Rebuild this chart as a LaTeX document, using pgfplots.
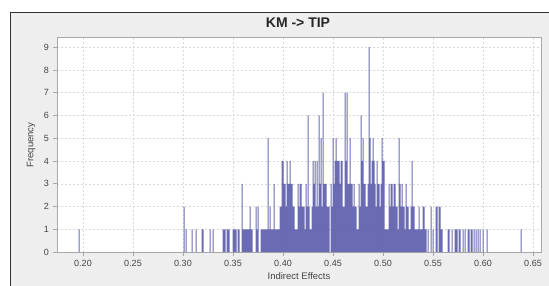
\documentclass[border=0pt]{standalone}
\usepackage{fontspec}
\setmainfont{Liberation Sans}
\usepackage{pgfplots}
\pgfplotsset{compat=1.18}
\definecolor{panelbg}{HTML}{EEEEEE}
\definecolor{barcol}{RGB}{92,92,172}
\definecolor{gridcol}{HTML}{D8D8D8}
\definecolor{axcol}{HTML}{A8A8A8}
\definecolor{txtcol}{HTML}{444444}
\begin{document}
\begin{tikzpicture}[x=1pt,y=1pt]
\path[use as bounding box] (0,0) rectangle (549,285);
\fill[white] (0,0) rectangle (549,285);
\filldraw[fill=panelbg,draw=black!80,line width=1pt] (10.5,-2) rectangle (551,272.5);
\begin{axis}[
  at={(57pt,33pt)}, anchor=south west,
  scale only axis, width=484pt, height=215pt,
  xmin=0.174, xmax=0.658, ymin=0, ymax=9.45,
  axis background/.style={fill=white},
  axis line style={axcol},
  ybar, bar width=1pt, bar shift=0pt,
  xtick={0.20,0.25,0.30,0.35,0.40,0.45,0.50,0.55,0.60,0.65},
  ytick={0,1,2,3,4,5,6,7,8,9},
  tick align=outside, major tick length=3.5pt,
  tick style={axcol, line width=0.6pt},
  xtick pos=bottom, ytick pos=left,
  grid=major,
  major grid style={gridcol, dash pattern=on 2pt off 2pt, line width=0.5pt},
  /pgf/number format/assume math mode=true,
  xticklabel style={/pgf/number format/fixed, /pgf/number format/fixed zerofill, /pgf/number format/precision=2, font=\fontsize{9}{10}\selectfont, text=txtcol, yshift=-1pt},
  yticklabel style={font=\fontsize{9}{10}\selectfont, text=txtcol, xshift=-1pt},
  scaled x ticks=false,
]
\addplot[fill=barcol, draw=none, fill opacity=0.9] coordinates {
(0.196,1)(0.301,2)(0.303,1)(0.309,1)(0.313,1)(0.319,1)(0.320,1)(0.327,1)(0.330,1)
(0.340,1)(0.341,1)(0.342,1)(0.344,1)(0.345,1)(0.346,1)(0.350,1)(0.351,1)(0.352,1)
(0.353,1)(0.355,1)(0.356,1)(0.359,3)(0.360,1)(0.361,1)(0.362,1)(0.363,1)(0.364,1)
(0.365,1)(0.366,1)(0.367,2)(0.368,1)(0.369,1)(0.373,2)(0.374,1)(0.375,2)(0.378,1)
(0.379,1)(0.380,1)(0.381,1)(0.382,1)(0.383,1)(0.384,1)(0.385,5)(0.386,1)(0.387,2)
(0.388,1)(0.389,1)(0.390,1)(0.391,3)(0.392,1)(0.393,1)(0.394,1)(0.395,1)(0.396,1)
(0.397,2)(0.398,2)(0.399,4)(0.400,4)(0.401,3)(0.402,3)(0.403,2)(0.404,4)(0.405,3)
(0.406,3)(0.407,4)(0.408,3)(0.409,3)(0.410,2)(0.411,2)(0.412,1)(0.413,1)(0.414,1)
(0.415,3)(0.416,2)(0.417,3)(0.418,3)(0.419,2)(0.420,2)(0.421,2)(0.422,1)(0.423,3)
(0.424,2)(0.425,6)(0.426,2)(0.427,1)(0.428,1)(0.429,2)(0.430,4)(0.431,3)(0.432,4)
(0.433,2)(0.434,4)(0.435,2)(0.436,6)(0.437,3)(0.438,5)(0.439,2)(0.440,7)(0.441,3)
(0.442,3)(0.443,3)(0.444,2)(0.445,2)(0.446,2)(0.448,3)(0.449,2)(0.450,5)(0.451,3)
(0.452,4)(0.453,5)(0.454,4)(0.455,4)(0.456,4)(0.457,3)(0.458,4)(0.459,4)(0.460,2)
(0.461,2)(0.462,7)(0.463,4)(0.464,7)(0.465,3)(0.466,3)(0.467,5)(0.468,3)(0.469,3)
(0.470,2)(0.471,3)(0.472,2)(0.473,2)(0.474,1)(0.475,1)(0.476,3)(0.477,2)(0.478,6)
(0.479,4)(0.480,5)(0.481,3)(0.482,3)(0.483,2)(0.484,2)(0.485,3)(0.486,9)(0.487,5)
(0.488,3)(0.489,4)(0.490,5)(0.491,4)(0.492,3)(0.493,2)(0.494,4)(0.495,3)(0.496,3)
(0.497,2)(0.498,3)(0.499,5)(0.500,4)(0.501,4)(0.502,1)(0.503,1)(0.504,1)(0.505,1)
(0.506,3)(0.507,2)(0.508,3)(0.509,3)(0.510,2)(0.511,3)(0.512,3)(0.513,2)(0.514,2)
(0.515,1)(0.516,5)(0.517,3)(0.518,2)(0.519,3)(0.520,2)(0.521,2)(0.522,1)(0.523,3)
(0.524,2)(0.525,2)(0.526,1)(0.527,1)(0.528,2)(0.529,4)(0.530,2)(0.531,2)(0.532,1)
(0.533,1)(0.534,1)(0.535,1)(0.536,2)(0.537,1)(0.538,1)(0.539,1)(0.540,2)(0.541,2)
(0.542,1)(0.543,1)(0.545,1)(0.548,2)(0.550,1)(0.553,2)(0.554,2)(0.556,2)(0.557,2)
(0.558,1)(0.559,1)(0.565,1)(0.566,1)(0.569,1)(0.572,1)(0.573,1)(0.574,1)(0.576,1)
(0.577,1)(0.580,1)(0.582,1)(0.585,1)(0.586,1)(0.588,1)(0.589,1)(0.591,1)(0.593,1)
(0.595,1)(0.597,1)(0.600,1)(0.604,1)(0.638,1)
};
\end{axis}
\node[font=\bfseries\fontsize{14}{16}\selectfont, text=black!85] at (298,262) {KM -> TIP};
\node[font=\fontsize{9.5}{11}\selectfont, text=txtcol] at (299,8.5) {Indirect Effects};
\node[font=\fontsize{9.5}{11}\selectfont, text=txtcol, rotate=90] at (31,140) {Frequency};
\end{tikzpicture}
\end{document}
